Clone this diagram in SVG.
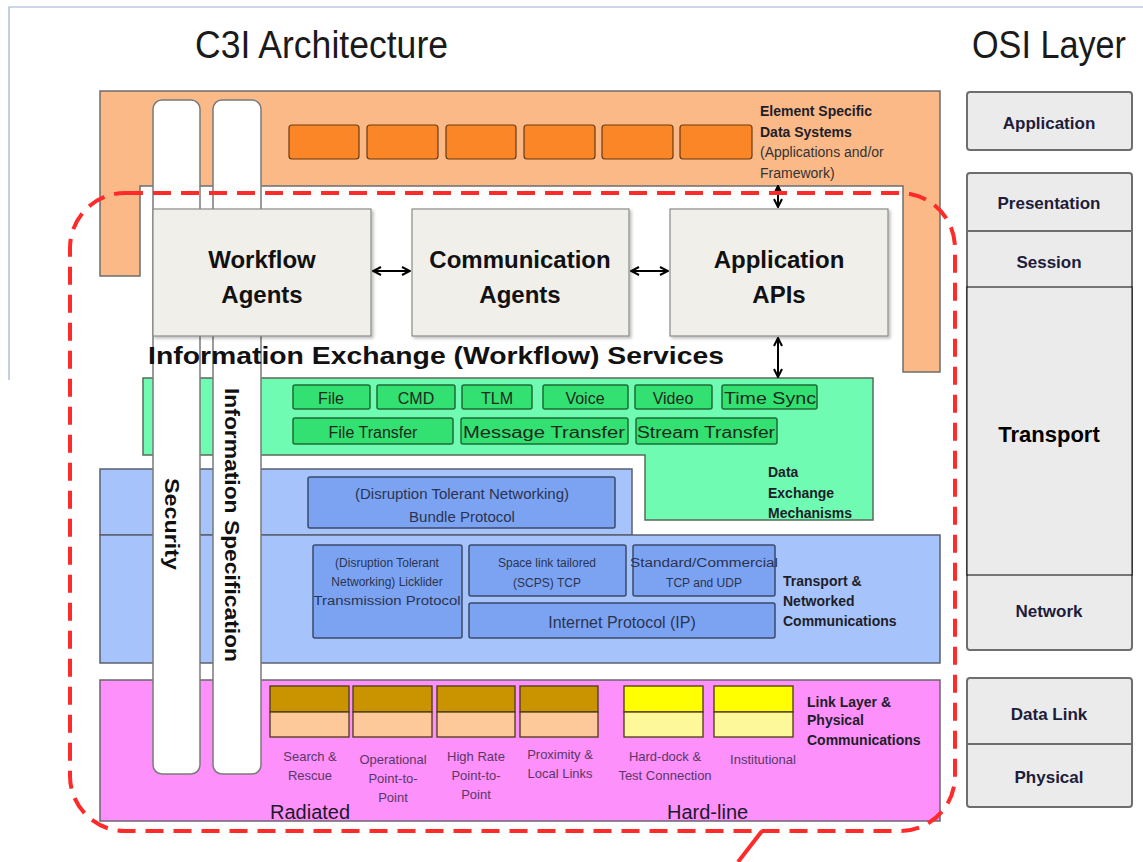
<svg xmlns="http://www.w3.org/2000/svg" width="1143" height="862" viewBox="0 0 1143 862">
  <style>
    .sans { font-family: "Liberation Sans", Arial, sans-serif; }
    .title { font-family: "Liberation Sans", Arial, sans-serif; font-size: 38px; fill: #1a1a1a; }
    .lbl { font-family: "Liberation Sans", Arial, sans-serif; font-size: 14px; font-weight: bold; fill: #1e1e2a; }
    .orangeBox { fill: #fb8628; stroke: #6a3a10; stroke-width: 1.2; }
    .col { fill: #ffffff; stroke: #7a7a7a; stroke-width: 1.5; }
    .gbox { fill: #33e072; stroke: #1f6b34; stroke-width: 1.5; }
    .gtxt { font-family: "Liberation Sans", Arial, sans-serif; font-size: 16px; fill: #1c2a1c; text-anchor: middle; }
    .bbox { fill: #7ca3f2; stroke: #3a4a6a; stroke-width: 1.5; }
    .btxt { font-family: "Liberation Sans", Arial, sans-serif; font-size: 12px; fill: #2a3450; text-anchor: middle; }
    .ptxt { font-family: "Liberation Sans", Arial, sans-serif; font-size: 13px; fill: #5a3768; text-anchor: middle; }
    .agent { fill: #f0efe9; stroke: #8a8a8a; stroke-width: 1.2; }
    .agentTxt { font-family: "Liberation Sans", Arial, sans-serif; font-size: 24px; font-weight: bold; fill: #111; text-anchor: middle; }
    .osi { fill: #ebebeb; stroke: #6e6e6e; stroke-width: 2; }
    .osiTxt { font-family: "Liberation Sans", Arial, sans-serif; font-size: 17px; font-weight: bold; fill: #1d1d3a; text-anchor: middle; }
    .link { stroke: #000; stroke-width: 2; fill: none; marker-start: url(#ah); marker-end: url(#ah); }
  </style>
  <defs>
    <marker id="ah" viewBox="0 0 10 10" refX="9" refY="5" markerWidth="10" markerHeight="10" markerUnits="userSpaceOnUse" orient="auto-start-reverse">
      <path d="M1,1 L9,5 L1,9" fill="none" stroke="#000" stroke-width="2"/>
    </marker>
    <filter id="shadow" x="-5%" y="-5%" width="115%" height="115%">
      <feDropShadow dx="2" dy="2" stdDeviation="1.5" flood-color="#000" flood-opacity="0.25"/>
    </filter>
  </defs>

  <rect width="1143" height="862" fill="#ffffff"/>
  <!-- page frame -->
  <path d="M9,380 V7 H1143" fill="none" stroke="#9cb0d0" stroke-width="1.2"/>

  <!-- headings -->
  <text class="title" x="195" y="58" textLength="253" lengthAdjust="spacingAndGlyphs">C3I Architecture</text>
  <text class="title" x="972" y="58" textLength="154" lengthAdjust="spacingAndGlyphs">OSI Layer</text>

  <!-- element specific data systems -->
  <g id="element-systems">
    <path d="M100,91 H940 V372 H903 V186 H140 V276 H100 Z" fill="#fbb987" stroke="#6e6e6e" stroke-width="1.5"/>
    <rect class="orangeBox" x="289" y="125" width="70" height="34" rx="3"/>
    <rect class="orangeBox" x="367" y="125" width="71" height="34" rx="3"/>
    <rect class="orangeBox" x="446" y="125" width="70" height="34" rx="3"/>
    <rect class="orangeBox" x="524" y="125" width="71" height="34" rx="3"/>
    <rect class="orangeBox" x="602" y="125" width="71" height="34" rx="3"/>
    <rect class="orangeBox" x="680" y="125" width="72" height="34" rx="3"/>
    <text class="lbl" x="760" y="116">Element Specific</text>
    <text class="lbl" x="760" y="137">Data Systems</text>
    <text class="sans" x="760" y="157" font-size="14" fill="#333">(Applications and/or</text>
    <text class="sans" x="760" y="178" font-size="14" fill="#333">Framework)</text>
  </g>

  <!-- data exchange mechanisms -->
  <g id="data-exchange">
    <path d="M143,378 H873 V520 H645 V455 H143 Z" fill="#6ffbb2" stroke="#5a6a5a" stroke-width="1.5"/>
    <rect class="gbox" x="293" y="385" width="77" height="24" rx="2"/>
    <rect class="gbox" x="377" y="385" width="78" height="24" rx="2"/>
    <rect class="gbox" x="462" y="385" width="70" height="24" rx="2"/>
    <rect class="gbox" x="543" y="385" width="85" height="24" rx="2"/>
    <rect class="gbox" x="635" y="385" width="77" height="24" rx="2"/>
    <rect class="gbox" x="722" y="385" width="95" height="24" rx="2"/>
    <rect class="gbox" x="293" y="418" width="160" height="26" rx="2"/>
    <rect class="gbox" x="461" y="418" width="167" height="26" rx="2"/>
    <rect class="gbox" x="636" y="418" width="141" height="26" rx="2"/>
    <text class="gtxt" x="331" y="404">File</text>
    <text class="gtxt" x="416" y="404">CMD</text>
    <text class="gtxt" x="497" y="404">TLM</text>
    <text class="gtxt" x="585" y="404">Voice</text>
    <text class="gtxt" x="673" y="404">Video</text>
    <text class="gtxt" x="770" y="404" textLength="92" lengthAdjust="spacingAndGlyphs">Time Sync</text>
    <text class="gtxt" x="373" y="438">File Transfer</text>
    <text class="gtxt" x="544" y="438" textLength="162" lengthAdjust="spacingAndGlyphs">Message Transfer</text>
    <text class="gtxt" x="706" y="438" textLength="138" lengthAdjust="spacingAndGlyphs">Stream Transfer</text>
    <text class="lbl" x="768" y="477">Data</text>
    <text class="lbl" x="768" y="498">Exchange</text>
    <text class="lbl" x="768" y="518">Mechanisms</text>
  </g>

  <!-- transport & networked communications -->
  <g id="transport-network">
    <rect x="100" y="469" width="532" height="66" fill="#a6c3fb" stroke="#5a6070" stroke-width="1.5"/>
    <rect x="100" y="535" width="840" height="128" fill="#a6c3fb" stroke="#5a6070" stroke-width="1.5"/>
    <rect class="bbox" x="308" y="477" width="307" height="51" rx="2"/>
    <text class="sans" x="462" y="499" font-size="15" fill="#2a3450" text-anchor="middle">(Disruption Tolerant Networking)</text>
    <text class="sans" x="462" y="522" font-size="15" fill="#2a3450" text-anchor="middle">Bundle Protocol</text>
    <rect class="bbox" x="313" y="545" width="149" height="93" rx="2"/>
    <text class="btxt" x="387" y="567">(Disruption Tolerant</text>
    <text class="btxt" x="387" y="586">Networking) Licklider</text>
    <text class="btxt" x="387" y="605" textLength="147" lengthAdjust="spacingAndGlyphs">Transmission Protocol</text>
    <rect class="bbox" x="469" y="545" width="157" height="51" rx="2"/>
    <text class="btxt" x="547" y="567">Space link tailored</text>
    <text class="btxt" x="547" y="587" font-size="13">(SCPS) TCP</text>
    <rect class="bbox" x="633" y="545" width="142" height="51" rx="2"/>
    <text class="btxt" x="704" y="567" textLength="148" lengthAdjust="spacingAndGlyphs">Standard/Commercial</text>
    <text class="btxt" x="704" y="587" font-size="13">TCP and UDP</text>
    <rect class="bbox" x="469" y="603" width="306" height="35" rx="2"/>
    <text class="sans" x="622" y="628" font-size="16" fill="#2a3450" text-anchor="middle">Internet Protocol (IP)</text>
    <text class="lbl" x="783" y="586">Transport &amp;</text>
    <text class="lbl" x="783" y="606">Networked</text>
    <text class="lbl" x="783" y="626">Communications</text>
  </g>

  <!-- link layer & physical communications -->
  <g id="link-physical">
    <rect x="100" y="680" width="840" height="141" fill="#fd90fb" stroke="#6e6470" stroke-width="1.5"/>
    <g stroke="#4a3a10" stroke-width="1.3">
      <rect x="270" y="686" width="79" height="26" fill="#c99400"/>
      <rect x="270" y="712" width="79" height="25" fill="#fdc99a"/>
      <rect x="353" y="686" width="79" height="26" fill="#c99400"/>
      <rect x="353" y="712" width="79" height="25" fill="#fdc99a"/>
      <rect x="437" y="686" width="78" height="26" fill="#c99400"/>
      <rect x="437" y="712" width="78" height="25" fill="#fdc99a"/>
      <rect x="520" y="686" width="78" height="26" fill="#c99400"/>
      <rect x="520" y="712" width="78" height="25" fill="#fdc99a"/>
      <rect x="624" y="686" width="79" height="26" fill="#ffff00"/>
      <rect x="624" y="712" width="79" height="25" fill="#fdf99a"/>
      <rect x="714" y="686" width="79" height="26" fill="#ffff00"/>
      <rect x="714" y="712" width="79" height="25" fill="#fdf99a"/>
    </g>
    <text class="ptxt" x="310" y="761">Search &amp;</text>
    <text class="ptxt" x="310" y="780">Rescue</text>
    <text class="ptxt" x="393" y="764">Operational</text>
    <text class="ptxt" x="393" y="783">Point-to-</text>
    <text class="ptxt" x="393" y="802">Point</text>
    <text class="ptxt" x="476" y="761">High Rate</text>
    <text class="ptxt" x="476" y="780">Point-to-</text>
    <text class="ptxt" x="476" y="799">Point</text>
    <text class="ptxt" x="560" y="759">Proximity &amp;</text>
    <text class="ptxt" x="560" y="778">Local Links</text>
    <text class="ptxt" x="665" y="761">Hard-dock &amp;</text>
    <text class="ptxt" x="665" y="780">Test Connection</text>
    <text class="ptxt" x="763" y="764">Institutional</text>
    <text class="lbl" x="807" y="707">Link Layer &amp;</text>
    <text class="lbl" x="807" y="725">Physical</text>
    <text class="lbl" x="807" y="745">Communications</text>
    <text class="sans" x="270" y="819" font-size="20" fill="#1a1a2a">Radiated</text>
    <text class="sans" x="667" y="819" font-size="20" fill="#1a1a2a">Hard-line</text>
  </g>

  <!-- vertical cross-cutting columns -->
  <g id="security">
    <rect class="col" x="153" y="100" width="47" height="674" rx="9"/>
    <text class="sans" transform="translate(165,478) rotate(90)" font-size="20" font-weight="bold" fill="#111" textLength="92" lengthAdjust="spacingAndGlyphs">Security</text>
  </g>
  <g id="information-specification">
    <rect class="col" x="213" y="100" width="48" height="674" rx="9"/>
    <text class="sans" transform="translate(225,388) rotate(90)" font-size="20" font-weight="bold" fill="#111" textLength="274" lengthAdjust="spacingAndGlyphs">Information Specification</text>
  </g>

  <!-- information exchange services -->
  <g id="workflow-agents">
    <rect class="agent" x="153" y="209" width="218" height="127" filter="url(#shadow)"/>
    <text class="agentTxt" x="262" y="268">Workflow</text>
    <text class="agentTxt" x="262" y="303">Agents</text>
  </g>
  <g id="communication-agents">
    <rect class="agent" x="412" y="209" width="217" height="127" filter="url(#shadow)"/>
    <text class="agentTxt" x="520" y="268">Communication</text>
    <text class="agentTxt" x="520" y="303">Agents</text>
  </g>
  <g id="application-apis">
    <rect class="agent" x="670" y="209" width="218" height="127" filter="url(#shadow)"/>
    <text class="agentTxt" x="779" y="268">Application</text>
    <text class="agentTxt" x="779" y="303">APIs</text>
  </g>
  <text class="sans" x="148" y="364" font-size="24" font-weight="bold" fill="#111" textLength="576" lengthAdjust="spacingAndGlyphs">Information Exchange (Workflow) Services</text>

  <!-- connectors -->
  <g id="connectors">
    <line class="link" x1="373" y1="271" x2="410" y2="271"/>
    <line class="link" x1="631" y1="271" x2="668" y2="271"/>
    <line class="link" x1="778" y1="207" x2="778" y2="186"/>
    <line class="link" x1="778" y1="338" x2="778" y2="377"/>
  </g>

  <!-- C3I scope boundary -->
  <g id="c3i-boundary">
    <rect x="70" y="193" width="885" height="638" rx="55" fill="none" stroke="#ff2a2a" stroke-width="4" stroke-dasharray="18 10"/>
    <line x1="762" y1="831" x2="738" y2="862" stroke="#ff2a2a" stroke-width="4"/>
  </g>

  <!-- OSI reference layers -->
  <g id="osi-application">
    <rect class="osi" x="967" y="92" width="165" height="58" rx="3"/>
    <text class="osiTxt" x="1049" y="129">Application</text>
  </g>
  <g id="osi-presentation-network">
    <rect class="osi" x="967" y="173" width="165" height="477" rx="3"/>
    <line x1="967" y1="231" x2="1132" y2="231" stroke="#6e6e6e" stroke-width="2"/>
    <text class="osiTxt" x="1049" y="209">Presentation</text>
    <text class="osiTxt" x="1049" y="268">Session</text>
    <text class="osiTxt" x="1049" y="617">Network</text>
  </g>
  <g id="osi-transport">
    <rect x="967" y="287" width="165" height="288" fill="#ebebeb" stroke="#000" stroke-width="1"/>
    <text class="sans" x="1049" y="442" font-size="22" font-weight="bold" fill="#000" text-anchor="middle">Transport</text>
  </g>
  <g id="osi-datalink-physical">
    <rect class="osi" x="967" y="678" width="165" height="129" rx="3"/>
    <line x1="967" y1="744" x2="1132" y2="744" stroke="#6e6e6e" stroke-width="2"/>
    <text class="osiTxt" x="1049" y="720">Data Link</text>
    <text class="osiTxt" x="1049" y="783">Physical</text>
  </g>
</svg>
